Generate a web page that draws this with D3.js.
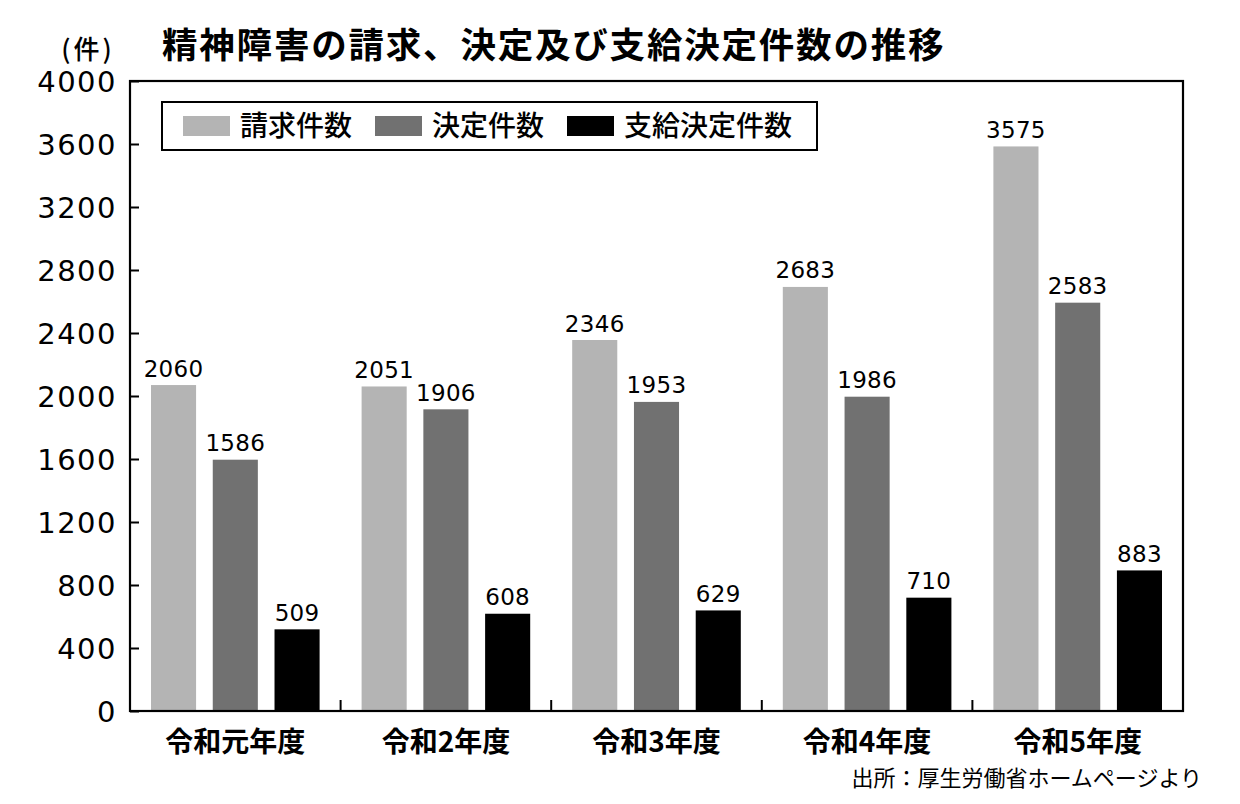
<!DOCTYPE html>
<html><head><meta charset="utf-8">
<script src="https://cdn.jsdelivr.net/npm/d3@7"></script>
<style>
html,body{margin:0;padding:0;background:#fff;}
svg{display:block;}
</style></head>
<body>
<script>
const categories = ["令和元年度","令和2年度","令和3年度","令和4年度","令和5年度"];
const seriesNames = ["請求件数","決定件数","支給決定件数"];
const claims = [2060, 2051, 2346, 2683, 3575];
const decisions = [1586, 1906, 1953, 1986, 2583];
const approvals = [509, 608, 629, 710, 883];
const yTicks = [0,400,800,1200,1600,2000,2400,2800,3200,3600,4000];
const colors = ["#b4b4b4","#717171","#000000"];
const titleText = "精神障害の請求、決定及び支給決定件数の推移";
const unitText = "(件)";
const sourceText = "出所：厚生労働省ホームページより";

const W = 1240, H = 804;
const m = {left:130, right:1183, top:81, bottom:711};
const cjk = "'Noto Sans CJK JP','Noto Sans CJK SC',sans-serif";
const num = "'DejaVu Sans',sans-serif";

const svg = d3.select("body").append("svg").attr("width",W).attr("height",H);

const series = [claims, decisions, approvals];
const data = categories.map((c,i)=>({cat:c, vals:series.map((s,k)=>({k, v:s[i]}))}));

const y = d3.scaleLinear().domain([0,4000]).range([m.bottom, m.top]);
const x0 = d3.scaleBand().domain(categories).range([m.left, m.right]).paddingInner(0).paddingOuter(0);
const x1 = d3.scaleBand().domain(d3.range(3)).range([0, x0.bandwidth()]).paddingInner(0.27).paddingOuter(0.34);

// bars
const g = svg.append("g");
const grp = g.selectAll("g.grp").data(data).join("g").attr("transform",d=>`translate(${x0(d.cat)},0)`);
grp.selectAll("rect").data(d=>d.vals).join("rect")
  .attr("x",d=>x1(d.k)).attr("width",x1.bandwidth())
  .attr("y",d=>y(d.v)-1.5).attr("height",d=>y(0)-y(d.v)+1.5)
  .attr("fill",d=>colors[d.k]);
grp.selectAll("text.val").data(d=>d.vals).join("text")
  .attr("class","val")
  .attr("x",d=>x1(d.k)+x1.bandwidth()/2).attr("y",d=>y(d.v)-10)
  .attr("text-anchor","middle").attr("font-family",num).attr("font-size",23)
  .attr("letter-spacing","0.3px")
  .attr("fill","#000").text(d=>d.v);

// frame
svg.append("rect").attr("x",m.left).attr("y",m.top).attr("width",m.right-m.left).attr("height",m.bottom-m.top)
  .attr("fill","none").attr("stroke","#000").attr("stroke-width",2.2);

// y axis
const yAxis = d3.axisLeft(y).tickValues(yTicks).tickSize(-9).tickPadding(15).tickFormat(d3.format("d"));
const ya = svg.append("g").attr("transform",`translate(${m.left},0)`).call(yAxis);
ya.select(".domain").remove();
ya.selectAll("line").attr("stroke","#000").attr("stroke-width",2);
ya.selectAll("text").attr("font-family",num).attr("font-size",29).attr("fill","#000").attr("letter-spacing","1.5px").attr("dy","0.36em").attr("x",-13);

// x separators
const seps = categories.slice(1).map(c=>x0(c));
svg.selectAll("line.sep").data(seps).join("line").attr("class","sep")
  .attr("x1",d=>d).attr("x2",d=>d).attr("y1",m.bottom).attr("y2",m.bottom-11)
  .attr("stroke","#000").attr("stroke-width",2);

// x labels
svg.selectAll("text.cat").data(categories).join("text").attr("class","cat")
  .attr("x",d=>x0(d)+x0.bandwidth()/2).attr("y",752)
  .attr("text-anchor","middle").attr("font-family",cjk).attr("font-weight",700).attr("font-size",28)
  .text(d=>d);

// title
svg.append("text").attr("x",162).attr("y",58).attr("font-family",cjk).attr("font-weight",700)
  .attr("font-size",35.5).attr("letter-spacing","1.8px").text(titleText);
svg.append("text").attr("x",88).attr("y",59).attr("text-anchor","middle").attr("font-family",cjk).attr("font-weight",500)
  .attr("font-size",26).attr("letter-spacing","3px").text(unitText);

// source
svg.append("text").attr("x",1202).attr("y",786).attr("text-anchor","end").attr("font-family",cjk)
  .attr("font-size",22).text(sourceText);

// legend
const lg = svg.append("g");
lg.append("rect").attr("x",162).attr("y",102).attr("width",655).attr("height",48)
  .attr("fill","#fff").attr("stroke","#000").attr("stroke-width",2);
const legX = [183, 375, 567];
seriesNames.forEach((n,i)=>{
  lg.append("rect").attr("x",legX[i]).attr("y",116).attr("width",47).attr("height",20).attr("fill",colors[i]);
  lg.append("text").attr("x",legX[i]+57).attr("y",136).attr("font-family",cjk).attr("font-weight",500)
    .attr("font-size",28).text(n);
});
</script>
</body></html>
